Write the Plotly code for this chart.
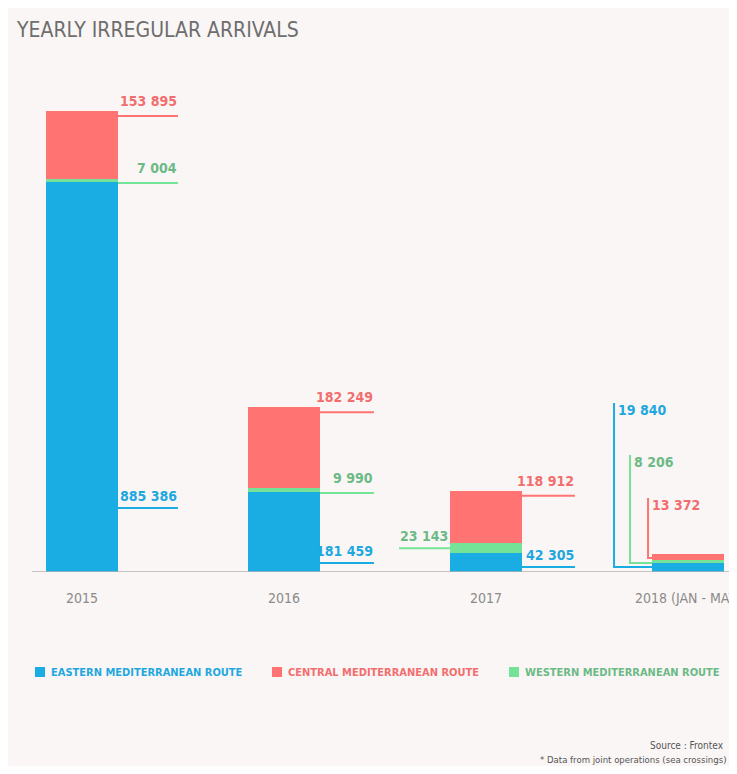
import plotly.graph_objects as go

# ---------------- data ----------------
years = ["2015", "2016", "2017", "2018 (JAN - MAY)"]
eastern = [885386, 181459, 42305, 19840]
western = [7004, 9990, 23143, 8206]
central = [153895, 182249, 118912, 13372]
series_names = ["EASTERN MEDITERRANEAN ROUTE", "CENTRAL MEDITERRANEAN ROUTE", "WESTERN MEDITERRANEAN ROUTE"]
title_text = "YEARLY IRREGULAR ARRIVALS"
source_text = "Source : Frontex"
note_text = "* Data from joint operations (sea crossings)"

# ---------------- style ----------------
W, H = 729, 758
BLUE, RED, GREEN = "#1aade4", "#ff7373", "#74e398"
BLUE_T, RED_T, GREEN_T = "#1fa8e0", "#f26e6e", "#6cba86"
PANEL = "#faf6f5"
FONT = "DejaVu Sans Condensed, Liberation Sans Narrow, sans-serif"
MT, MB = 52, 194
PH = H - MT - MB
BAR_W = 0.356
X_RANGE = [-0.3663, 3.2426]
Y_MAX = 1162000

def fmt(v):
    return f"{v:,}".replace(",", " ")

def py(pix):  # figure pixel row -> paper y
    return (H - MB - pix) / PH

xs = list(range(len(years)))
fig = go.Figure()
fig.add_bar(x=xs, y=eastern, name=series_names[0], marker=dict(color=BLUE, line_width=0), width=BAR_W)
fig.add_bar(x=xs, y=western, name=series_names[2], marker=dict(color=GREEN, line_width=0), width=BAR_W)
fig.add_bar(x=xs, y=central, name=series_names[1], marker=dict(color=RED, line_width=0), width=BAR_W)

shapes = []
annotations = []

# baseline
shapes.append(dict(type="line", xref="paper", yref="y", x0=24 / W, x1=1.0, y0=0, y1=0,
                   line=dict(color="#b5b2b1", width=1.5)))

def hline(xa, ya, x0, x1, dy, color):
    shapes.append(dict(type="line", xref="x", yref="y", xsizemode="pixel", ysizemode="pixel",
                       xanchor=xa, yanchor=ya, x0=x0, x1=x1, y0=dy, y1=dy,
                       line=dict(color=color, width=2)))

def label(xa, ya, text, color, xshift, yshift, anchor):
    annotations.append(dict(x=xa, y=ya, xref="x", yref="y", text=f"<b>{text}</b>", showarrow=False,
                            xanchor=anchor, yanchor="middle", xshift=xshift, yshift=yshift,
                            font=dict(family=FONT, size=14, color=color)))

LINE_LEN = [60, 54, 53]
blue_heights = [64, 9, 5]
for i in range(3):
    right = xs[i] + BAR_W / 2
    left = xs[i] - BAR_W / 2
    total = eastern[i] + western[i] + central[i]
    L = LINE_LEN[i]
    # central (top)
    hline(right, total, 0, L, -5, RED)
    label(right, total, fmt(central[i]), RED_T, L + 1, 10, "right")
    # western
    if i < 2:
        hline(right, eastern[i], 0, L, -1, GREEN)
        label(right, eastern[i], fmt(western[i]), GREEN_T, L + 1, 14, "right")
    else:
        mid = eastern[i] + western[i] / 2
        hline(left, mid, -51, 0, 0, GREEN)
        label(left, mid, fmt(western[i]), GREEN_T, -52, 12, "left")
    # eastern
    hline(right, 0, 0, L, blue_heights[i], BLUE)
    label(right, 0, fmt(eastern[i]), BLUE_T, L + 1, blue_heights[i] + 12, "right")

# 2018: vertical leaders
i = 3
left = xs[i] - BAR_W / 2
leaders = [  # (value, line colour, text colour, x offset, horizontal height, top height)
    (eastern[i], BLUE, BLUE_T, -38, 5, 169),
    (western[i], GREEN, GREEN_T, -22, 9, 117),
    (central[i], RED, RED_T, -4, 14, 74),
]
for val, c, tc, dx, hy, ty in leaders:
    shapes.append(dict(type="path", xref="x", yref="y", xsizemode="pixel", ysizemode="pixel",
                       xanchor=left, yanchor=0,
                       path=f"M {dx},{ty} L {dx},{hy} L 0,{hy}",
                       line=dict(color=c, width=2)))
    label(left, 0, fmt(val), tc, dx + 2, ty - 7, "left")

# legend (custom)
leg = [(series_names[0], BLUE, BLUE_T, 27), (series_names[1], RED, RED_T, 264), (series_names[2], GREEN, GREEN_T, 501)]
LEG_Y = 664
for name, c, tc, px in leg:
    shapes.append(dict(type="rect", xref="paper", yref="paper",
                       x0=px / W, x1=(px + 10) / W, y0=py(LEG_Y + 5), y1=py(LEG_Y - 5),
                       fillcolor=c, line_width=0))
    annotations.append(dict(x=(px + 14) / W, y=py(LEG_Y), xref="paper", yref="paper",
                            text=f"<b>{name}</b>", showarrow=False, xanchor="left", yanchor="middle",
                            font=dict(family=FONT, size=11, color=tc)))

# footnotes
annotations.append(dict(x=718 / W, y=py(737), xref="paper", yref="paper",
                        text=source_text, showarrow=False, xanchor="right", yanchor="middle",
                        font=dict(family=FONT, size=10, color="#555555")))
annotations.append(dict(x=720 / W, y=py(751), xref="paper", yref="paper",
                        text=note_text, showarrow=False, xanchor="right", yanchor="middle",
                        font=dict(family=FONT, size=9.5, color="#555555")))

fig.update_layout(
    template="none",
    width=W, height=H,
    barmode="stack",
    showlegend=False,
    paper_bgcolor=PANEL,
    plot_bgcolor="rgba(0,0,0,0)",
    margin=dict(l=0, r=0, t=MT, b=MB, pad=0),
    title=dict(text=title_text, x=9 / W, xanchor="left", xref="container",
               y=1 - 22 / H, yanchor="middle", yref="container",
               font=dict(family=FONT, size=21, color="#6e6e6e")),
    xaxis=dict(range=X_RANGE, tickvals=xs, ticktext=years, showgrid=False, zeroline=False,
               showline=False, ticks="outside", ticklen=13, tickcolor="rgba(0,0,0,0)",
               automargin=False, ticklabeloverflow="allow",
               tickfont=dict(family=FONT, size=14, color="#8a8a8a")),
    yaxis=dict(range=[0, Y_MAX], visible=False, automargin=False),
    shapes=shapes,
    annotations=annotations,
)

fig.write_html("out.html")
